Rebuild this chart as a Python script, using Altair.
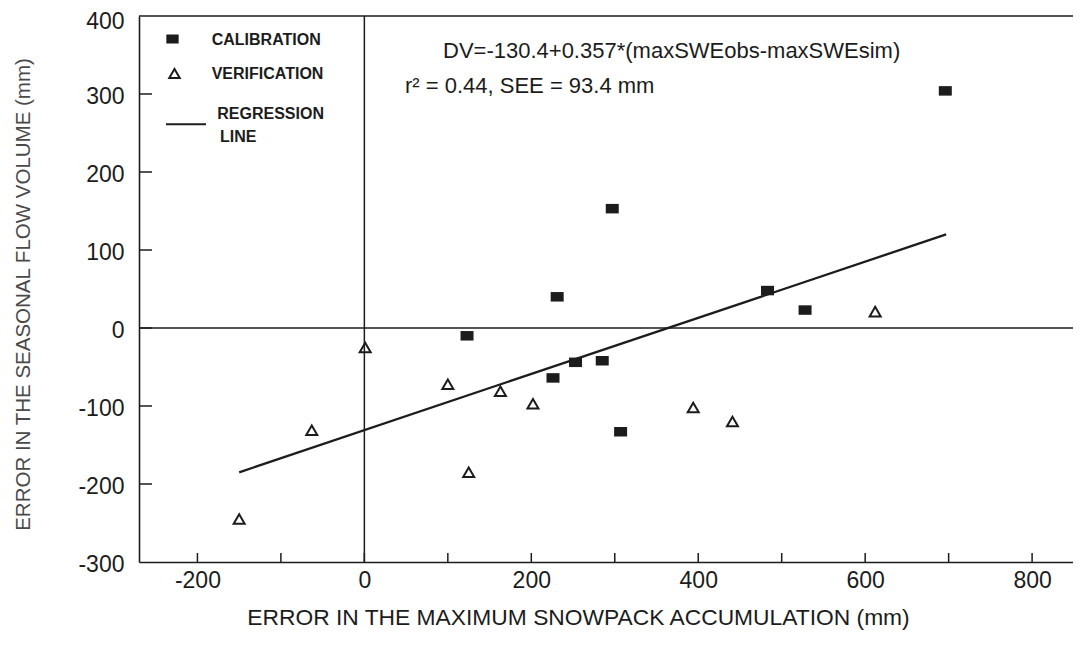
import altair as alt
import pandas as pd

# ---- data ----
cal_x = [123, 226, 253, 285, 307, 231, 297, 483, 528, 696]
cal_y = [-10, -64, -44, -42, -133, 40, 153, 48, 23, 304]
ver_x = [-150, -63, 1, 100, 125, 163, 202, 394, 441, 612]
ver_y = [-245, -131, -25, -72, -185, -81, -97, -102, -120, 21]
reg_x = [-150, 697]
reg_y = [-185, 120]

x_tick_values = [-200, -100, 0, 100, 200, 300, 400, 500, 600, 700, 800]
x_label_values = [-200, 0, 200, 400, 600, 800]
y_tick_values = [-200, -100, 0, 100, 200, 300]
y_label_values = [-300, -200, -100, 0, 100, 200, 300, 400]
x_domain = [-270, 849]
y_domain = [-300, 400]

x_title = "ERROR IN THE MAXIMUM SNOWPACK ACCUMULATION (mm)"
y_title = "ERROR IN THE SEASONAL FLOW VOLUME (mm)"
eq_text = "DV=-130.4+0.357*(maxSWEobs-maxSWEsim)"
stat_text = "r\u00b2 = 0.44, SEE = 93.4 mm"
leg_cal = "CALIBRATION"
leg_ver = "VERIFICATION"
leg_reg1 = "REGRESSION"
leg_reg2 = "LINE"

# ---- styling ----
W, H = 934, 546
FONT = "Liberation Sans"
INK = "#1c1c1c"
SQUARE = "M-1.3,-0.95L1.3,-0.95L1.3,0.95L-1.3,0.95Z"
LABEL_EXPR = "datum.value < 0 ? '-' + abs(datum.value) : '' + datum.value"

xs = alt.Scale(domain=x_domain, nice=False, zero=False)
ys = alt.Scale(domain=y_domain, nice=False, zero=False)

x_axis = alt.Axis(
    values=x_label_values, ticks=False, tickSize=0, grid=False,
    domainColor=INK, domainWidth=1.6, labelFont=FONT, labelFontSize=23,
    labelColor=INK, labelPadding=7, labelFlush=False, labelOverlap=False,
    labelExpr=LABEL_EXPR,
    title=x_title, titleFont=FONT, titleFontSize=22.8, titleFontWeight="normal",
    titleColor=INK, titleX=439, titleY=55, titleAlign="center",
    titleBaseline="middle",
)
y_axis = alt.Axis(
    values=y_label_values, ticks=False, tickSize=0, grid=False,
    domainColor=INK, domainWidth=1.6, labelFont=FONT, labelFontSize=23,
    labelColor=INK, labelPadding=15, labelFlush=False, labelOverlap=False,
    labelBaseline="middle", labelExpr=LABEL_EXPR,
    labelOffset={"condition": {"test": "datum.value == 400", "value": 5}, "value": 2},
    title=y_title, titleFont=FONT, titleFontSize=20.5, titleFontWeight="normal",
    titleColor="#4a4a4a", titleX=-116, titleY=278, titleAngle=270,
    titleAlign="center", titleBaseline="middle",
)

X = alt.X("x:Q", scale=xs, axis=x_axis)
Y = alt.Y("y:Q", scale=ys, axis=y_axis)

cal = pd.DataFrame({"x": cal_x, "y": cal_y})
ver = pd.DataFrame({"x": ver_x, "y": ver_y})
reg = pd.DataFrame({"x": reg_x, "y": reg_y})
xt = pd.DataFrame({"x": x_tick_values})
yt = pd.DataFrame({"y": y_tick_values})
zero_h = pd.DataFrame({"y": [0]})
zero_v = pd.DataFrame({"x": [0]})
top_b = pd.DataFrame({"y": [y_domain[1]]})
one = pd.DataFrame({"k": [0]})

layers = []
# frame / reference lines
layers.append(alt.Chart(top_b).mark_rule(color=INK, strokeWidth=1.6).encode(y=Y))
layers.append(alt.Chart(zero_h).mark_rule(color=INK, strokeWidth=1.5).encode(y=Y))
layers.append(alt.Chart(zero_v).mark_rule(color=INK, strokeWidth=1.5).encode(x=X))
# inward ticks
layers.append(alt.Chart(xt).mark_rule(color=INK, strokeWidth=1.5).encode(
    x=X, y=alt.value(H), y2=alt.value(H - 9)))
layers.append(alt.Chart(yt).mark_rule(color=INK, strokeWidth=1.5).encode(
    y=Y, x=alt.value(0), x2=alt.value(13)))
# regression line
layers.append(alt.Chart(reg).mark_line(color=INK, strokeWidth=2.3).encode(x=X, y=Y))
# points
layers.append(alt.Chart(cal).mark_point(shape=SQUARE, filled=True, size=100,
                                        color=INK, opacity=1).encode(x=X, y=Y))
layers.append(alt.Chart(ver).mark_point(shape="triangle-up", filled=False, size=121,
                                        strokeWidth=2, color=INK, opacity=1).encode(x=X, y=Y))

# legend (drawn inside plot)
def txt(s, px, py, size, weight="normal"):
    return alt.Chart(one).mark_text(text=s, font=FONT, fontSize=size, fontWeight=weight,
                                    color=INK, align="left", baseline="alphabetic").encode(
        x=alt.value(px), y=alt.value(py))

layers.append(alt.Chart(one).mark_point(shape=SQUARE, filled=True, size=90, color=INK,
                                        opacity=1).encode(x=alt.value(33.5), y=alt.value(23)))
layers.append(alt.Chart(one).mark_point(shape="triangle-up", filled=False, size=110,
                                        strokeWidth=2, color=INK, opacity=1).encode(
    x=alt.value(35.5), y=alt.value(57.5)))
layers.append(alt.Chart(one).mark_rule(color=INK, strokeWidth=2).encode(
    x=alt.value(27), x2=alt.value(67), y=alt.value(108.3)))
layers.append(txt(leg_cal, 72.7, 29, 16, "bold"))
layers.append(txt(leg_ver, 72.7, 63.3, 16, "bold"))
layers.append(txt(leg_reg1, 78.3, 103, 16, "bold"))
layers.append(txt(leg_reg2, 81, 125.7, 16, "bold"))
# annotations
layers.append(txt(eq_text, 304, 42, 22))
layers.append(txt(stat_text, 266, 77, 22))

chart = alt.layer(*layers).properties(
    width=W, height=H,
    padding={"left": 131, "top": 8, "right": 0, "bottom": 79},
    autosize=alt.AutoSizeParams(type="none"),
    background="white",
).configure_view(stroke=None)

chart.save("out.html", embed_options={"renderer": "svg", "actions": False})
